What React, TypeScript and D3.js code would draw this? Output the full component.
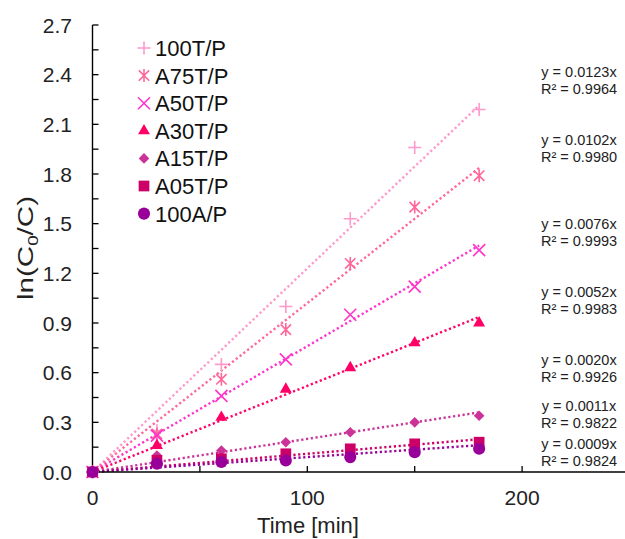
import React from 'react';
import * as d3 from 'd3';

const times = [0, 30, 60, 90, 120, 150, 180];
const seriesNames = ['100T/P', 'A75T/P', 'A50T/P', 'A30T/P', 'A15T/P', 'A05T/P', '100A/P'];
const t100 = [0, 0.25, 0.65, 1.0, 1.53, 1.96, 2.19];
const a75 = [0, 0.23, 0.56, 0.86, 1.26, 1.6, 1.79];
const a50 = [0, 0.22, 0.46, 0.68, 0.95, 1.12, 1.34];
const a30 = [0, 0.16, 0.33, 0.5, 0.63, 0.78, 0.9];
const a15 = [0, 0.1, 0.13, 0.18, 0.24, 0.3, 0.34];
const a05 = [0, 0.07, 0.08, 0.11, 0.14, 0.17, 0.18];
const a100 = [0, 0.05, 0.06, 0.07, 0.09, 0.12, 0.14];
const slopes = [0.0123, 0.0102, 0.0076, 0.0052, 0.002, 0.0011, 0.0009];
const r2 = ['0.9964', '0.9980', '0.9993', '0.9983', '0.9926', '0.9822', '0.9824'];
const eqLabelY = [72, 140, 224, 292, 360, 406, 444];

const colors = ['#ff99cc', '#ff6699', '#ff33cc', '#ff0066', '#cc3399', '#cc0066', '#990099'];
const values = [t100, a75, a50, a30, a15, a05, a100];

const W = 625;
const H = 539;
const font = 'Arial, "Liberation Sans", sans-serif';

const x = d3.scaleLinear().domain([0, 250]).range([92.5, 629.5]);
const y = d3.scaleLinear().domain([0, 2.7]).range([472, 25]);

// excel style plus / star (size = half length)
const plusSym = {
  draw(ctx: any, s: number) {
    ctx.moveTo(-s, 0); ctx.lineTo(s, 0);
    ctx.moveTo(0, -s); ctx.lineTo(0, s);
  },
};
const starSym = {
  draw(ctx: any, s: number) {
    const d = s * 0.8;
    ctx.moveTo(-d, -d); ctx.lineTo(d, d);
    ctx.moveTo(-d, d); ctx.lineTo(d, -d);
    ctx.moveTo(0, -s); ctx.lineTo(0, s);
  },
};
const timesSym = {
  draw(ctx: any, s: number) {
    ctx.moveTo(-s, -s); ctx.lineTo(s, s);
    ctx.moveTo(-s, s); ctx.lineTo(s, -s);
  },
};

const markerDefs = [
  { type: plusSym, size: 6.5, fill: false },
  { type: starSym, size: 6.5, fill: false },
  { type: timesSym, size: 6, fill: false },
  { type: d3.symbolTriangle, size: 62, fill: true },
  { type: d3.symbolDiamond2, size: 72, fill: true },
  { type: d3.symbolSquare, size: 115, fill: true },
  { type: d3.symbolCircle, size: 115, fill: true },
];

function Marker({ i, cx, cy }: { i: number; cx: number; cy: number }) {
  const m = markerDefs[i];
  const d = d3.symbol().type(m.type as any).size(m.size)() as string;
  return (
    <path
      d={d}
      transform={`translate(${cx},${cy})`}
      fill={m.fill ? colors[i] : 'none'}
      stroke={colors[i]}
      strokeWidth={m.fill ? 0 : 1.6}
    />
  );
}

export default function App() {
  const yTicks = d3.range(0, 2.7001, 0.15);
  const yLabels = d3.range(0, 2.7001, 0.3);
  const xTicks = [0, 50, 100, 150, 200, 250];
  const xLabels = [0, 100, 200];
  const fmt = d3.format('.1f');

  return (
    <svg width={W} height={H} style={{ position: 'absolute', left: 0, top: 0, background: '#fff' }}>
      <rect width={W} height={H} fill="#fff" />

      {/* trend lines */}
      {slopes.map((k, i) => (
        <line
          key={'tl' + i}
          x1={x(0)}
          y1={y(0)}
          x2={x(180)}
          y2={y(180 * k)}
          stroke={colors[i]}
          strokeWidth={2.4}
          strokeDasharray="2.2 2.6"
        />
      ))}

      {/* axes */}
      <line x1={x(0)} y1={y(2.7)} x2={x(0)} y2={y(0)} stroke="#000" strokeWidth={1.4} />
      <line x1={x(0)} y1={y(0)} x2={W} y2={y(0)} stroke="#000" strokeWidth={1.4} />
      {yTicks.map((v) => (
        <line key={'yt' + v} x1={x(0)} x2={x(0) + 6} y1={y(v)} y2={y(v)} stroke="#000" strokeWidth={1.3} />
      ))}
      {xTicks.map((v) => (
        <line key={'xt' + v} x1={x(v)} x2={x(v)} y1={y(0)} y2={y(0) - 6} stroke="#000" strokeWidth={1.3} />
      ))}
      {yLabels.map((v) => (
        <text key={'yl' + v} x={72} y={y(v) + 7.5} textAnchor="end" fontFamily={font} fontSize={21} fill="#222">
          {fmt(v)}
        </text>
      ))}
      {xLabels.map((v) => (
        <text key={'xl' + v} x={x(v)} y={505} textAnchor="middle" fontFamily={font} fontSize={21} fill="#222">
          {v}
        </text>
      ))}
      <text x={308} y={533} textAnchor="middle" fontFamily={font} fontSize={22} fill="#222">
        Time [min]
      </text>
      <text
        transform="translate(33,248) rotate(-90)"
        textAnchor="middle"
        fontFamily={font}
        fontSize={22}
        fill="#222"
        textLength={104}
        lengthAdjust="spacingAndGlyphs"
      >
        ln(C<tspan fontSize={14} dy={5}>0</tspan>
        <tspan dy={-5}>/C)</tspan>
      </text>

      {/* markers */}
      {values.map((vals, i) =>
        vals.map((v, j) => <Marker key={`m${i}-${j}`} i={i} cx={x(times[j])} cy={y(v)} />)
      )}

      {/* trendline equations */}
      {slopes.map((k, i) => (
        <g key={'eq' + i} fontFamily={font} fontSize={14.5} fill="#222" textAnchor="middle">
          <text x={579} y={eqLabelY[i] + 5}>{`y = ${k.toFixed(4)}x`}</text>
          <text x={579} y={eqLabelY[i] + 22}>{`R² = ${r2[i]}`}</text>
        </g>
      ))}

      {/* legend */}
      {seriesNames.map((name, i) => (
        <g key={'lg' + i} transform={`translate(0,${48 + i * 27.6})`}>
          <Marker i={i} cx={144} cy={0} />
          <text x={155} y={8} fontFamily={font} fontSize={22} fill="#111">
            {name}
          </text>
        </g>
      ))}
    </svg>
  );
}
